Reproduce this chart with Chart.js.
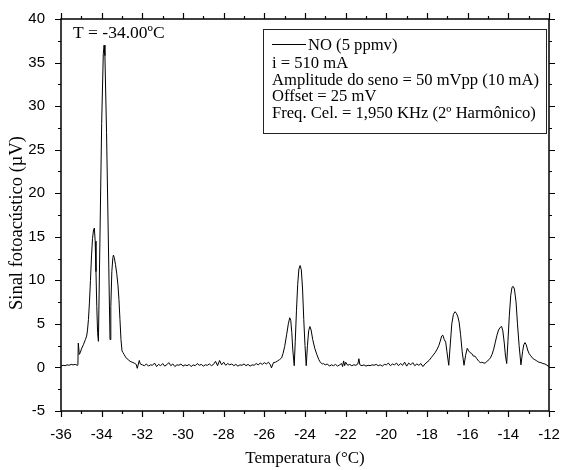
<!DOCTYPE html>
<html>
<head>
<meta charset="utf-8">
<script src="https://cdn.jsdelivr.net/npm/chart.js@4/dist/chart.umd.min.js"></script>
<style>
  body { margin: 0; background: #fff; }
  canvas { display: block; }
</style>
</head>
<body>
<canvas id="chart" width="563" height="470"></canvas>
<script>
// temperature (°C) and photoacoustic signal (µV)
const temps = [
  -36.0, -35.9, -35.8, -35.7, -35.6, -35.5, -35.4, -35.3, -35.2, -35.17,
  -35.15, -35.1, -35.05, -35.0, -34.9, -34.8, -34.74, -34.7, -34.65, -34.6,
  -34.55, -34.5, -34.45, -34.4, -34.36, -34.32, -34.28, -34.24, -34.2, -34.16,
  -34.0, -33.92, -33.88, -33.84, -33.76,
  -33.59, -33.55, -33.5, -33.45, -33.42, -33.38, -33.32,
  -33.26, -33.2, -33.15, -33.1, -33.05, -33.0, -32.95, -32.9, -32.85, -32.8,
  -32.7, -32.6, -32.5, -32.4, -32.3, -32.25, -32.15, -32.1, -32.0,
  -31.9, -31.8, -31.7, -31.6, -31.5, -31.4, -31.3, -31.2, -31.1, -31.0,
  -30.9, -30.8, -30.7, -30.6, -30.5, -30.4, -30.3, -30.2, -30.1, -30.0,
  -29.9, -29.8, -29.7, -29.6, -29.5, -29.4, -29.3, -29.2, -29.1, -29.0,
  -28.9, -28.8, -28.7, -28.6, -28.5, -28.4, -28.3, -28.2, -28.1, -28.0,
  -27.9, -27.8, -27.7, -27.6, -27.5, -27.4, -27.3, -27.2, -27.1, -27.0,
  -26.9, -26.8, -26.7, -26.6, -26.5, -26.4, -26.3, -26.2, -26.1, -26.0,
  -25.9, -25.8, -25.7, -25.65, -25.55, -25.45, -25.35, -25.25, -25.15, -25.08,
  -25.0, -24.9, -24.82, -24.75, -24.7, -24.65, -24.6, -24.53, -24.48, -24.42,
  -24.36, -24.3, -24.24, -24.18, -24.12, -24.06, -24.0, -23.94, -23.88, -23.82,
  -23.76, -23.7, -23.62, -23.52, -23.42, -23.32, -23.25, -23.15,
  -23.1, -23.0, -22.9, -22.8, -22.7, -22.6, -22.5, -22.4, -22.3, -22.2,
  -22.15, -22.1, -22.05, -22.0, -21.9, -21.8, -21.7, -21.6, -21.5, -21.4,
  -21.35, -21.3, -21.2, -21.1, -21.0, -20.9, -20.8, -20.7, -20.6, -20.5,
  -20.4, -20.3, -20.2, -20.1, -20.0, -19.9, -19.8, -19.7, -19.6, -19.5,
  -19.4, -19.3, -19.2, -19.1, -19.0, -18.9, -18.8, -18.7, -18.6, -18.5,
  -18.4, -18.3, -18.2, -18.1, -18.0, -17.9, -17.8, -17.7, -17.6, -17.5,
  -17.42, -17.35, -17.28, -17.22, -17.15, -17.08, -17.02, -16.93, -16.85, -16.78,
  -16.7, -16.62, -16.55, -16.48, -16.42, -16.35, -16.27, -16.18, -16.1, -16.02,
  -15.95, -15.88, -15.8, -15.72, -15.64, -15.55, -15.45, -15.38, -15.3, -15.2,
  -15.14, -15.05, -14.95, -14.88, -14.8, -14.72, -14.64, -14.56, -14.48, -14.4,
  -14.33, -14.27, -14.2, -14.14, -14.08, -14.02, -13.95, -13.88, -13.82, -13.76,
  -13.7, -13.62, -13.55, -13.47, -13.38, -13.3, -13.24, -13.18, -13.12, -13.05,
  -12.98, -12.92, -12.85, -12.78, -12.7, -12.6, -12.5, -12.4, -12.3, -12.2,
  -12.1, -12.0
];
const signal = [
  0.15, 0.25, 0.2, 0.3, 0.25, 0.35, 0.3, 0.35, 0.25, 0.3,
  2.8, 1.5, 1.7, 2.1, 2.6, 3.2, 3.6, 4.2, 5.5, 7.5,
  10.0, 12.8, 14.8, 15.8, 16.0, 14.5, 11.0, 7.0, 4.0, 3.0,
  28.0, 36.0, 37.0, 35.8, 27.0,
  3.2, 7.0, 11.0, 12.6, 12.9, 12.6, 11.8,
  10.8, 9.5, 7.8, 5.5, 3.2, 1.9, 1.7, 1.5, 1.3, 1.1,
  0.9, 0.7, 0.6, 0.5, 0.35, -0.1, 0.8, 0.4, 0.3,
  0.2, 0.4, 0.15, 0.3, 0.25, 0.5, 0.1, 0.35, 0.2, 0.45,
  0.15, 0.3, 0.55, 0.2, 0.4, 0.1, 0.3, 0.25, 0.4, 0.15,
  0.3, 0.2, 0.35, 0.1, 0.3, 0.2, 0.45, 0.25, 0.35, 0.15,
  0.3, 0.25, 0.4, 0.2, 0.35, 0.7, 0.2, 0.8, 0.3, 0.6,
  0.25, 0.45, 0.3, 0.4, 0.2, 0.35, 0.15, 0.3, 0.25, 0.4,
  0.2, 0.35, 0.15, 0.3, 0.25, 0.45, 0.3, 0.5, 0.35, 0.55,
  0.4, 0.6, 0.3, -0.05, 0.55, 0.6, 0.75, 0.9, 1.1, 1.6,
  2.4, 3.8, 5.0, 5.7, 5.4, 4.0, 2.0, 0.2, 3.0, 6.5,
  9.5, 11.3, 11.7, 11.2, 9.0, 5.5, 2.5, 0.2, 2.5, 4.2,
  4.7, 4.3, 3.2, 2.2, 1.5, 0.9, 0.6, 0.4,
  0.45, 0.3, 0.4, 0.15, 0.3, 0.2, 0.35, 0.15, 0.3, 0.45,
  0.1, 0.75, 0.2, 0.6, 0.25, 0.35, 0.2, 0.3, 0.25, 0.4,
  1.0, 0.3, 0.2, 0.3, 0.15, 0.25, 0.2, 0.3, 0.25, 0.35,
  0.2, 0.3, 0.15, 0.35, 0.3, 0.5, 0.2, 0.4, 0.3, 0.5,
  0.2, 0.45, 0.25, 0.6, 0.15, 0.5, 0.3, 0.55, 0.2, 0.4,
  0.25, 0.45, 0.1, 0.4, 0.6, 0.8, 1.1, 1.4, 1.7, 2.1,
  2.5, 3.0, 3.6, 3.7, 3.2, 2.9, 1.8, 0.25, 2.8, 5.0,
  6.1, 6.4, 6.2, 5.8, 5.2, 3.8, 1.8, 0.25, 1.4, 2.2,
  1.9, 1.7, 1.6, 1.3, 1.3, 1.0, 0.7, 0.55, 0.6, 0.5,
  0.5, 0.7, 0.9, 1.1, 1.5, 2.1, 2.9, 3.7, 4.3, 4.6,
  4.7, 4.2, 2.8, 1.3, 0.45, 3.0, 6.0, 8.3, 9.2, 9.3,
  9.0, 7.5, 5.0, 2.5, 0.3, 1.8, 2.6, 2.85, 2.6, 2.0,
  1.6, 1.4, 1.2, 1.0, 0.9, 0.75, 0.6, 0.55, 0.45, 0.4,
  0.25, 0.1
];

const xTicks = [-36, -34, -32, -30, -28, -26, -24, -22, -20, -18, -16, -14, -12];
const yTicks = [-5, 0, 5, 10, 15, 20, 25, 30, 35, 40];

const seriesName = 'NO (5 ppmv)';
const legendNotes = [
  'i = 510 mA',
  'Amplitude do seno = 50 mVpp (10 mA)',
  'Offset = 25 mV',
  'Freq. Cel. = 1,950 KHz (2º Harmônico)'
];
const tempNote = 'T = -34.00ºC';
const yTitle = 'Sinal fotoacústico (µV)';

const serif = '"Liberation Serif", "Times New Roman", serif';
const sans = '"Liberation Sans", Arial, sans-serif';

var points = temps.map(function(t, i) {
  return { x: t, y: signal[i] };
});

// frame, outward major/minor ticks on all four sides, legend box, notes
const framePlugin = {
  id: 'frame',
  afterDraw: function(chart) {
    var ctx = chart.ctx;
    var a = chart.chartArea;
    var xs = chart.scales.x;
    var ys = chart.scales.y;
    ctx.save();
    ctx.strokeStyle = '#000';
    ctx.lineWidth = 1.5;
    ctx.strokeRect(a.left, a.top, a.right - a.left, a.bottom - a.top);

    ctx.lineWidth = 1.2;
    ctx.beginPath();
    for (var v = -36; v <= -12; v += 1) {
      var px = Math.round(xs.getPixelForValue(v)) + 0.5;
      var len = (v % 2 === 0) ? 6 : 3;
      ctx.moveTo(px, a.bottom); ctx.lineTo(px, a.bottom + len);
      ctx.moveTo(px, a.top); ctx.lineTo(px, a.top - len);
    }
    for (var w = -5; w <= 40; w += 2.5) {
      var py = Math.round(ys.getPixelForValue(w)) + 0.5;
      var l2 = (w % 5 === 0) ? 6 : 3;
      ctx.moveTo(a.left, py); ctx.lineTo(a.left - l2, py);
      ctx.moveTo(a.right, py); ctx.lineTo(a.right + l2, py);
    }
    ctx.stroke();

    // legend box
    ctx.lineWidth = 1;
    ctx.strokeStyle = '#222';
    ctx.strokeRect(263.5, 29.5, 283, 104);
    ctx.strokeStyle = '#000';
    ctx.beginPath();
    ctx.moveTo(272, 44.5); ctx.lineTo(306, 44.5);
    ctx.stroke();

    ctx.fillStyle = '#000';
    ctx.font = '16.6px ' + serif;
    ctx.textBaseline = 'alphabetic';
    ctx.textAlign = 'left';
    ctx.fillText(seriesName, 308, 50);
    legendNotes.forEach(function(s, i) {
      ctx.fillText(s, 272, 68 + i * 16.6);
    });

    ctx.font = '17.5px ' + serif;
    ctx.fillText(tempNote, 73, 38);

    // y axis title
    ctx.translate(17, 223);
    ctx.rotate(-Math.PI / 2);
    ctx.textAlign = 'center';
    ctx.textBaseline = 'middle';
    ctx.font = '18.5px ' + serif;
    ctx.fillText(yTitle, 0, 0);
    ctx.restore();
  }
};

new Chart(document.getElementById('chart'), {
  type: 'scatter',
  data: {
    datasets: [{
      label: seriesName,
      data: points,
      showLine: true,
      borderColor: '#000',
      borderWidth: 1,
      pointRadius: 0,
      tension: 0
    }]
  },
  options: {
    responsive: false,
    animation: false,
    layout: { padding: { top: 19, right: 14, left: 0, bottom: 0 } },
    plugins: {
      legend: { display: false },
      tooltip: { enabled: false }
    },
    scales: {
      x: {
        type: 'linear',
        min: -36,
        max: -12,
        grid: { display: false },
        border: { display: false },
        afterBuildTicks: function(scale) {
          scale.ticks = xTicks.map(function(v) { return { value: v }; });
        },
        afterFit: function(scale) {
          scale.height = 59;
          scale.paddingLeft = 0;
          scale.paddingRight = 0;
        },
        ticks: {
          color: '#000',
          padding: 7,
          maxRotation: 0,
          font: { family: sans, size: 15 }
        },
        title: {
          display: true,
          text: 'Temperatura (°C)',
          color: '#000',
          padding: { top: 0, bottom: 1 },
          font: { family: serif, size: 17 }
        }
      },
      y: {
        min: -5,
        max: 40,
        grid: { display: false },
        border: { display: false },
        afterBuildTicks: function(scale) {
          scale.ticks = yTicks.map(function(v) { return { value: v }; });
        },
        afterFit: function(scale) {
          scale.width = 61;
          scale.paddingTop = 0;
          scale.paddingBottom = 0;
        },
        ticks: {
          color: '#000',
          padding: 8,
          font: { family: sans, size: 15 }
        },
        title: { display: false }
      }
    }
  },
  plugins: [framePlugin]
});
</script>
</body>
</html>
